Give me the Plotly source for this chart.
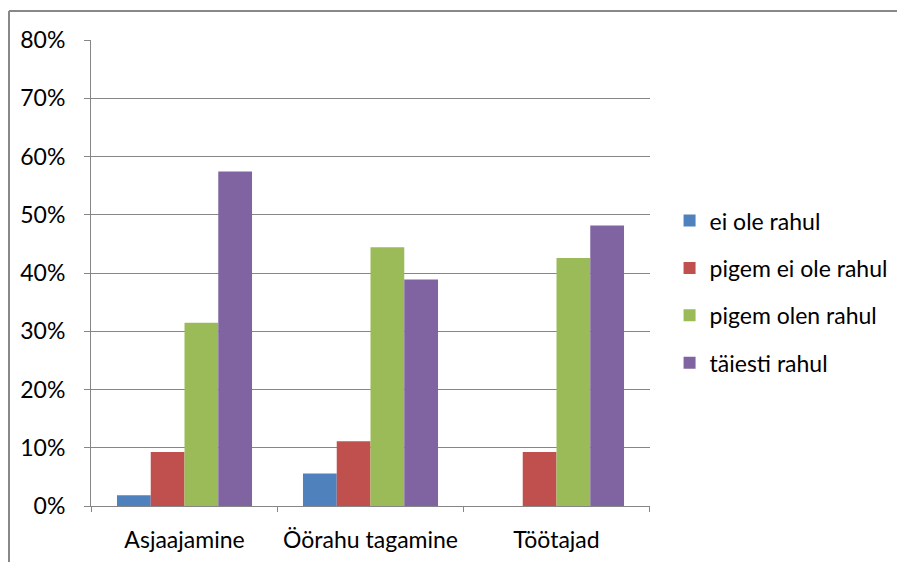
import plotly.graph_objects as go

categories = ["Asjaajamine", "Öörahu tagamine", "Töötajad"]
series_names = ["ei ole rahul", "pigem ei ole rahul", "pigem olen rahul", "täiesti rahul"]
ei_ole_rahul = [1.85, 5.56, 0.0]
pigem_ei_ole_rahul = [9.26, 11.11, 9.26]
pigem_olen_rahul = [31.48, 44.44, 42.59]
taiesti_rahul = [57.41, 38.89, 48.15]
tick_vals = [0, 10, 20, 30, 40, 50, 60, 70, 80]
tick_text = ["0%", "10%", "20%", "30%", "40%", "50%", "60%", "70%", "80%"]

colors = ["#4F81BD", "#C0504D", "#9BBB59", "#8064A2"]
values = [ei_ole_rahul, pigem_ei_ole_rahul, pigem_olen_rahul, taiesti_rahul]

FONT = "Lato"
FS = 23
W, H = 897, 554
L, R, T, B = 83, 255, 32, 56
PW, PH = W - L - R, H - T - B

fig = go.Figure()
for name, vals, col in zip(series_names, values, colors):
    fig.add_trace(go.Bar(
        x=categories, y=vals, name=name, legendgroup=name,
        marker=dict(color=col, line=dict(width=0)),
    ))

fig.update_layout(
    width=W, height=H,
    paper_bgcolor="white", plot_bgcolor="white",
    margin=dict(l=L, r=R, t=T, b=B, autoexpand=False),
    barmode="group", bargap=0.274, bargroupgap=0,
    font=dict(family=FONT, size=FS, color="#000000"),
    showlegend=True,
    legend=dict(
        x=1.035, y=0.459, xanchor="left", yanchor="middle",
        font=dict(family=FONT, size=FS, color="#000000"),
        tracegroupgap=14.5, traceorder="grouped",
        bgcolor="rgba(0,0,0,0)",
    ),
    xaxis=dict(
        showline=True, linecolor="#868686", linewidth=1,
        ticks="outside", ticklen=0, showgrid=False,
        tickfont=dict(family=FONT, size=FS),
        ticklabelstandoff=13,
    ),
    yaxis=dict(
        range=[0, 80], tickvals=tick_vals, ticktext=tick_text,
        showline=True, linecolor="#868686", linewidth=1,
        ticks="outside", ticklen=6, tickcolor="#868686",
        showgrid=True, gridcolor="#868686", gridwidth=1,
        zeroline=False,
        tickfont=dict(family=FONT, size=FS),
        ticklabelstandoff=14,
    ),
    shapes=[
        *[dict(type="line", xref="x", yref="paper", x0=i - 0.5, x1=i - 0.5, y0=0, y1=-6 / PH,
               line=dict(color="#868686", width=1)) for i in range(len(categories) + 1)],
        dict(type="line", xref="paper", yref="paper",
             x0=(1 - L) / PW, x1=(W - L) / PW, y0=(PH + T - 3) / PH, y1=(PH + T - 3) / PH,
             line=dict(color="#888888", width=2)),
        dict(type="line", xref="paper", yref="paper",
             x0=(1 - L) / PW, x1=(1 - L) / PW, y0=(PH + T - 3) / PH, y1=-B / PH,
             line=dict(color="#888888", width=2)),
    ],
)

fig.write_html("out.html")
